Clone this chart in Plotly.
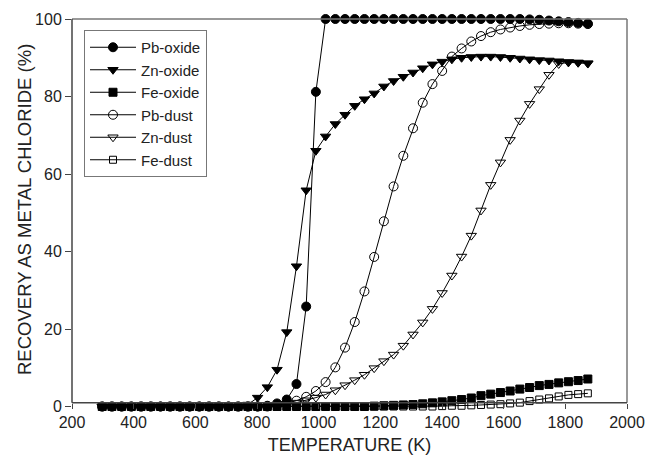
import plotly.graph_objects as go

temperature = [298, 329.5, 361, 392.5, 424, 455.5, 487, 518.5, 550, 581.5,
               613, 644.5, 676, 707.5, 739, 770.5, 802, 833.5, 865, 896.5,
               928, 959.5, 991, 1022.5, 1054, 1085.5, 1117, 1148.5, 1180, 1211.5,
               1243, 1274.5, 1306, 1337.5, 1369, 1400.5, 1432, 1463.5, 1495, 1526.5,
               1558, 1589.5, 1621, 1652.5, 1684, 1715.5, 1747, 1778.5, 1810, 1841.5,
               1873]

pb_oxide = [0]*17 + [0.2, 0.8, 1.8, 5.8, 25.8, 81.2] + [100]*21 + \
           [99.9, 99.8, 99.6, 99.4, 99.2, 99.0, 98.8]
zn_oxide = [0]*15 + [0.5, 2.3, 5.0, 9.5, 19.2, 36.2, 55.8, 66.0, 69.7, 72.9,
                     75.3, 77.6, 79.3, 80.8, 82.6, 84.0, 85.1, 86.2, 87.3, 88.3,
                     89.0, 89.6, 90.0, 90.2, 90.3, 90.3, 90.2, 90.0, 89.8, 89.6,
                     89.4, 89.3, 89.1, 88.9, 88.8, 88.6]
fe_oxide = [0]*28 + [0.1, 0.2, 0.3, 0.4, 0.5, 0.7, 0.95, 1.2, 1.5, 1.8,
                     2.2, 2.8, 3.2, 3.6, 4.0, 4.5, 4.9, 5.4, 5.7, 6.1,
                     6.4, 6.7, 7.1]
pb_dust = [0]*18 + [0.3, 0.8, 1.5, 2.5, 4.0, 6.3, 10.1, 15.2, 21.8, 29.7,
                    38.6, 47.8, 56.8, 64.7, 71.8, 78.4, 83.2, 86.6, 90.3, 92.4,
                    94.2, 95.6, 96.6, 97.3, 97.8, 98.2, 98.5, 98.7, 98.8, 98.9,
                    98.9, 98.8, 98.7]
zn_dust = [0]*18 + [0.2, 0.5, 1.0, 1.6, 2.3, 3.1, 4.2, 5.5, 6.8, 8.2,
                    9.9, 11.7, 13.4, 15.7, 18.6, 21.7, 25.2, 29.3, 33.8, 38.7,
                    44.1, 50.6, 57.2, 63.0, 68.8, 73.8, 78.1, 81.9, 85.6, 88.4,
                    88.8, 88.7, 88.5]
fe_dust = [0]*35 + [0.1, 0.2, 0.2, 0.3, 0.4, 0.5, 0.6, 0.8, 1.0, 1.4,
                    1.8, 2.1, 2.6, 3.0, 3.2, 3.4]

series_names = ["Pb-oxide", "Zn-oxide", "Fe-oxide", "Pb-dust", "Zn-dust", "Fe-dust"]
series_values = [pb_oxide, zn_oxide, fe_oxide, pb_dust, zn_dust, fe_dust]
symbols = ["circle", "triangle-down", "square", "circle-open", "triangle-down-open", "square-open"]
sizes = [9, 9, 8, 9, 9, 7]

x_ticks = [200, 400, 600, 800, 1000, 1200, 1400, 1600, 1800, 2000]
y_ticks = [0, 20, 40, 60, 80, 100]

FONT = "Liberation Sans, Arial, sans-serif"

fig = go.Figure()
# add in reverse so the oxide markers are drawn on top
for name, vals, sym, sz in reversed(list(zip(series_names, series_values, symbols, sizes))):
    fig.add_trace(go.Scatter(
        x=temperature, y=vals, name=name, mode="lines+markers",
        line=dict(color="black", width=1),
        marker=dict(symbol=sym, size=sz, color="black",
                    line=dict(color="black", width=1)),
        cliponaxis=False,
    ))

W, H = 647, 455
ml, mr, mt, mb = 72, 20, 19, 45
plot_w = W - ml - mr
plot_h = H - mt - mb
axis_pos = (410 - 402.7) / plot_h

fig.update_layout(
    width=W, height=H,
    margin=dict(l=ml, r=mr, t=mt, b=mb, autoexpand=False),
    paper_bgcolor="white", plot_bgcolor="white",
    font=dict(family=FONT, color="#222", size=16),
    showlegend=True,
    legend=dict(
        x=(84 - ml) / plot_w, y=1 - (30 - mt) / plot_h,
        xanchor="left", yanchor="top",
        bordercolor="#777", borderwidth=1, bgcolor="white",
        traceorder="reversed", font=dict(size=15, family=FONT, color="#222"),
        itemwidth=46,
    ),
    xaxis=dict(
        range=[200, 2000], tickvals=x_ticks, showgrid=False, zeroline=False,
        showline=False, ticks="outside", ticklen=5, tickcolor="#444",
        anchor="free", position=axis_pos,
        tickfont=dict(size=16, family=FONT, color="#222"),
        title=dict(text="TEMPERATURE (K)", font=dict(size=18, family=FONT, color="#222"), standoff=9),
    ),
    yaxis=dict(
        range=[-0.9, 100], tickvals=y_ticks, showgrid=False, zeroline=False,
        showline=False, ticks="outside", ticklen=6, tickcolor="#444",
        tickfont=dict(size=16, family=FONT, color="#222"),
    ),
    annotations=[
        dict(text="RECOVERY AS METAL CHLORIDE (%)", textangle=-90,
             xref="paper", yref="paper", x=(24 - ml) / plot_w, y=1 - (210 - mt) / plot_h,
             xanchor="center", yanchor="middle", showarrow=False,
             font=dict(size=18.5, family=FONT, color="#222")),
    ],
    shapes=[
        dict(type="line", xref="paper", yref="paper", x0=0, x1=1, y0=1, y1=1,
             line=dict(color="#777", width=1.5)),
        dict(type="line", xref="paper", yref="paper", x0=1, x1=1, y0=axis_pos, y1=1,
             line=dict(color="#777", width=1.5)),
        dict(type="line", xref="paper", yref="paper", x0=0, x1=0, y0=axis_pos, y1=1,
             line=dict(color="#444", width=1.5)),
        dict(type="line", xref="paper", yref="paper", x0=0, x1=1, y0=axis_pos, y1=axis_pos,
             line=dict(color="#444", width=1.5)),
    ],
)

fig.write_html("out.html")
